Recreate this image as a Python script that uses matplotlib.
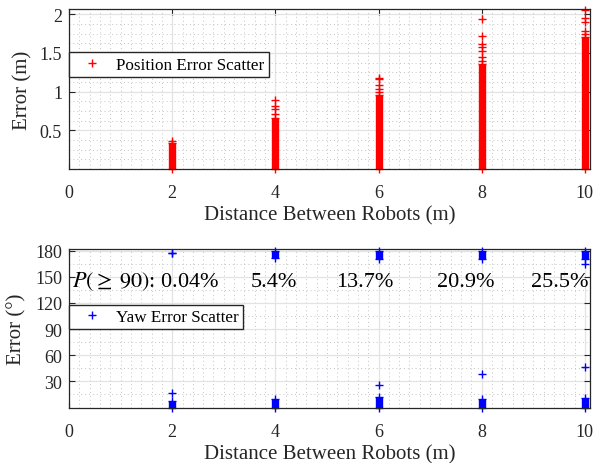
import numpy as np
import matplotlib
matplotlib.use('Agg')
import matplotlib.pyplot as plt
from matplotlib.ticker import FormatStrFormatter

plt.rcParams['font.family'] = ['Liberation Serif', 'DejaVu Serif']
plt.rcParams['mathtext.fontset'] = 'stix'

# Datos: distancia entre robots
dist = [2, 4, 6, 8, 10]

# error de posicion (m): tope de la franja densa y puntos aislados
pos_band_top = [0.33, 0.66, 0.96, 1.36, 1.70]
pos_out = [[0.36],
           [0.71, 0.77, 0.81, 0.89],
           [1.00, 1.04, 1.08, 1.16, 1.17],
           [1.40, 1.45, 1.53, 1.58, 1.62, 1.72, 1.94],
           [1.75, 1.78, 1.90, 1.95, 2.06]]

# error de yaw (grados): franja baja, franja alta y puntos aislados
yaw_low_top = [8, 10, 12, 10, 11]
yaw_low_out = [[17], [], [26], [39], [47]]
yaw_high_lo = [177, 172, 170, 170, 171]
yaw_high_hi = [177, 180, 180, 180, 180]
yaw_high_out = [[], [], [], [], [165]]
yaw_pct = [0.04, 5.4, 13.7, 20.9, 25.5]

txt_col = '#262626'
fig = plt.figure(figsize=(5.96, 4.64), dpi=100)
ax1 = fig.add_axes([0.1158, 0.6336, 0.8742, 0.3448])
ax2 = fig.add_axes([0.1158, 0.1196, 0.8742, 0.3416])


def style(ax, ymaj, ymin):
    ax.set_xlim(0, 10.1)
    ax.set_xticks([0, 2, 4, 6, 8, 10])
    ax.set_xticks(np.arange(0, 10.1, 0.2), minor=True)
    ax.set_yticks(ymaj)
    ax.set_yticks(ymin, minor=True)
    ax.yaxis.set_major_formatter(FormatStrFormatter('%g'))
    ax.grid(True, which='major', color='#e3e3e3', lw=0.9, ls='-')
    ax.grid(True, which='minor', color='#c4c4c4', lw=0.7, ls=(0, (1, 3)))
    ax.set_axisbelow(True)
    ax.tick_params(which='major', direction='in', length=4, width=0.8,
                   top=True, right=True, labelsize=13, colors=txt_col)
    ax.tick_params(axis='x', which='major', pad=11)
    ax.tick_params(axis='y', which='major', pad=5)
    ax.tick_params(which='minor', length=0)
    for s in ax.spines.values():
        s.set_color('#262626')
        s.set_linewidth(0.9)
    ax.set_xlabel('Distance Between Robots (m)', fontsize=15, color=txt_col,
                  labelpad=3)


# grafica de posicion
for i in range(len(dist)):
    ax1.vlines(dist[i], 0, pos_band_top[i], color='red', lw=5.3, clip_on=False)
    ys = [0, pos_band_top[i]] + pos_out[i]
    ax1.plot([dist[i]] * len(ys), ys, '+', color='red', ms=5.5, mew=1,
             clip_on=False, label='Position Error Scatter' if i == 0 else None)
ax1.set_ylim(0, 2.067)
style(ax1, [0.5, 1, 1.5, 2], np.arange(0, 2.1, 0.125))
ax1.set_ylabel('Error (m)', fontsize=15, color=txt_col)
ax1.yaxis.set_label_coords(-0.071, 0.5)
ax1.legend(loc='upper left', bbox_to_anchor=(0, 0.729), borderaxespad=0,
           fontsize=12.3, fancybox=False, framealpha=1, edgecolor='#262626',
           borderpad=0.25, handlelength=2.2, handletextpad=0.3, numpoints=1)

# grafica de yaw
for i in range(len(dist)):
    ax2.vlines(dist[i], 0, yaw_low_top[i], color='blue', lw=5.3, clip_on=False)
    ax2.vlines(dist[i], yaw_high_lo[i], yaw_high_hi[i], color='blue', lw=5.3,
               clip_on=False)
    ys = [0, yaw_low_top[i], yaw_high_lo[i], yaw_high_hi[i]] + yaw_low_out[i] + yaw_high_out[i]
    ax2.plot([dist[i]] * len(ys), ys, '+', color='blue', ms=5.5, mew=1,
             clip_on=False, label='Yaw Error Scatter' if i == 0 else None)
ax2.set_ylim(0, 182)
style(ax2, [30, 60, 90, 120, 150, 180], np.arange(0, 181, 15))
ax2.set_ylabel('Error (\u00b0)', fontsize=15, color=txt_col)
ax2.yaxis.set_label_coords(-0.081, 0.5)
ax2.legend(loc='upper left', bbox_to_anchor=(0, 0.647), borderaxespad=0,
           fontsize=12.3, fancybox=False, framealpha=1, edgecolor='#262626',
           borderpad=0.25, handlelength=2.2, handletextpad=0.3, numpoints=1)

# porcentajes P(>=90)
txt_x = [0.05, 3.98, 5.74, 7.70, 9.52]
for i in range(len(yaw_pct)):
    if i == 0:
        s = r'$P(\geq\;90)$: ' + f'{yaw_pct[i]:g}%'
        ax2.text(txt_x[i], 139.5, s, fontsize=16, ha='left', va='baseline')
    else:
        ax2.text(txt_x[i], 139.5, f'{yaw_pct[i]:g}%', fontsize=16,
                 ha='center', va='baseline')

fig.savefig('out.png', dpi=100)
